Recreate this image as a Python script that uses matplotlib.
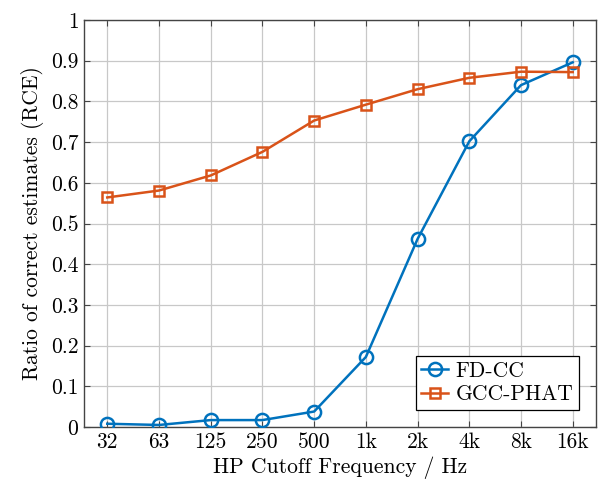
import matplotlib
matplotlib.use("Agg")
import matplotlib.pyplot as plt
import numpy as np

plt.rcParams["font.family"] = ["cmr10", "DejaVu Serif"]
plt.rcParams["mathtext.fontset"] = "cm"
plt.rcParams["axes.unicode_minus"] = False

# HP cutoff frequencies and ratio of correct estimates per method
freq_labels = ["32", "63", "125", "250", "500", "1k", "2k", "4k", "8k", "16k"]
fdcc = [0.008, 0.005, 0.017, 0.017, 0.038, 0.172, 0.462, 0.702, 0.840, 0.896]
gcc_phat = [0.564, 0.581, 0.618, 0.676, 0.753, 0.792, 0.830, 0.858, 0.873, 0.872]
y_ticks = [0, 0.1, 0.2, 0.3, 0.4, 0.5, 0.6, 0.7, 0.8, 0.9, 1]
y_labels = ["0", "0.1", "0.2", "0.3", "0.4", "0.5", "0.6", "0.7", "0.8", "0.9", "1"]

blue = "#0072BD"
orange = "#D95319"

fig = plt.figure(figsize=(6.06, 4.79), dpi=100)
ax = fig.add_axes([84 / 606, 1 - 427 / 479, 512 / 606, 407 / 479])

x = np.arange(len(freq_labels))
ax.plot(x, fdcc, color=blue, linewidth=1.8, marker="o", markersize=9.5,
        markerfacecolor="none", markeredgewidth=1.8, label="FD-CC", zorder=3)
ax.plot(x, gcc_phat, color=orange, linewidth=1.8, marker="s", markersize=7,
        markerfacecolor="none", markeredgewidth=1.8, label="GCC-PHAT", zorder=3)

ax.set_xlim(-0.45, 9.45)
ax.set_ylim(0, 1)
ax.set_xticks(x)
ax.set_xticklabels(freq_labels)
ax.set_yticks(y_ticks)
ax.set_yticklabels(y_labels)
ax.tick_params(direction="in", length=4, labelsize=15.5, color="#444444",
               top=True, right=True, pad=4)
ax.grid(True, color="#c8c8c8", linewidth=0.9)
ax.set_axisbelow(True)
for s in ax.spines.values():
    s.set_color("#444444")
    s.set_linewidth(1.0)

ax.set_xlabel("HP Cutoff Frequency / Hz", fontsize=15.5, labelpad=3)
ax.set_ylabel("Ratio of correct estimates (RCE)", fontsize=15.5, labelpad=5)

leg = ax.legend(loc="lower right", fontsize=15.5, fancybox=False, framealpha=1,
                edgecolor="black", borderpad=0.25, handlelength=1.25,
                handletextpad=0.35, labelspacing=0.18, borderaxespad=0.8)
leg.get_frame().set_linewidth(0.9)

fig.savefig("out.png", dpi=100)
